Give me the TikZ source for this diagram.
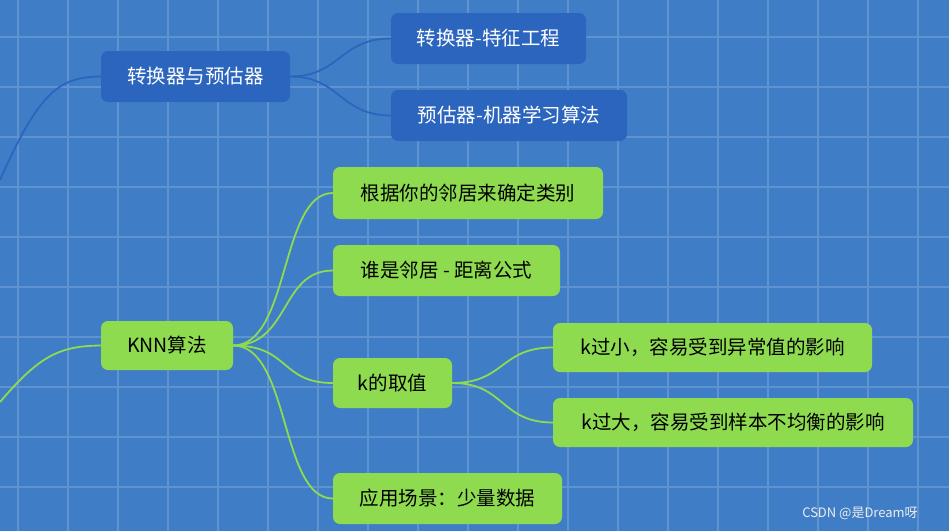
\documentclass[tikz,border=0pt]{standalone}
\usepackage{fontspec}
\setmainfont{Noto Sans CJK SC}
\begin{document}
\begin{tikzpicture}[x=1pt,y=-1pt,
  bn/.style={fill=nodeblue,text=white,rounded corners=7pt,font=\fontsize{19.5}{22}\selectfont,inner sep=0pt},
  gn/.style={fill=nodegreen,text=black,rounded corners=7pt,font=\fontsize{19.5}{22}\selectfont,inner sep=0pt},
  bl/.style={draw=nodeblue,line width=1.8pt},
  gl/.style={draw=nodegreen,line width=1.8pt}]
\definecolor{bg}{HTML}{3F7EC6}
\definecolor{gridc}{HTML}{5E93D0}
\definecolor{nodeblue}{HTML}{2B65BE}
\definecolor{nodegreen}{HTML}{8EDB50}
\fill[bg] (0,0) rectangle (949,531);
\useasboundingbox (0,0) rectangle (949,531);
\foreach \x in {18,68,...,948} \draw[gridc,line width=1.3pt] (\x,0) -- (\x,531);
\foreach \y in {37,87,...,530} \draw[gridc,line width=1.3pt] (0,\y) -- (949,\y);
\node[bn,minimum width=189,minimum height=51] (tp) at (195.5,76.5) {转换器与预估器};
\node[bn,minimum width=195,minimum height=51] (t1) at (488.5,38.5) {转换器-特征工程};
\node[bn,minimum width=236,minimum height=51] (t2) at (509,115.5) {预估器-机器学习算法};
\node[gn,minimum width=132,minimum height=49] (knn) at (167,345.5) {KNN算法};
\node[gn,minimum width=270,minimum height=52] (g1) at (468,193) {根据你的邻居来确定类别};
\node[gn,minimum width=227,minimum height=51] (g2) at (446.5,270.5) {谁是邻居 - 距离公式};
\node[gn,minimum width=119,minimum height=50] (g3) at (392.5,383) {k的取值};
\node[gn,minimum width=229,minimum height=51] (g4) at (447.5,498.5) {应用场景：少量数据};
\node[gn,minimum width=319,minimum height=49] (k1) at (712.5,347.5) {k过小，容易受到异常值的影响};
\node[gn,minimum width=360,minimum height=49] (k2) at (733,422.5) {k过大，容易受到样本不均衡的影响};
\coordinate (lb) at (0,180);
\coordinate (lg) at (0,402);
\draw[bl] (lb) .. controls (40,90) and (60,77) .. (tp.west);
\draw[gl] (lg) .. controls (40,355) and (60,346) .. (knn.west);
\foreach \c in {t1,t2}
  \draw[bl] (tp.east) .. controls (340,76.5) and (340,0 |- \c.west) .. (\c.west);
\foreach \c in {g1,g2,g3,g4}
  \draw[gl] (knn.east) .. controls (290,345.5) and (280,0 |- \c.west) .. (\c.west);
\foreach \c in {k1,k2}
  \draw[gl] (g3.east) .. controls (505,383) and (500,0 |- \c.west) .. (\c.west);
\node[text=white!85!gray,font=\fontsize{13}{15}\selectfont] (wm) at (860,513) {CSDN @是Dream呀};
\end{tikzpicture}
\end{document}
